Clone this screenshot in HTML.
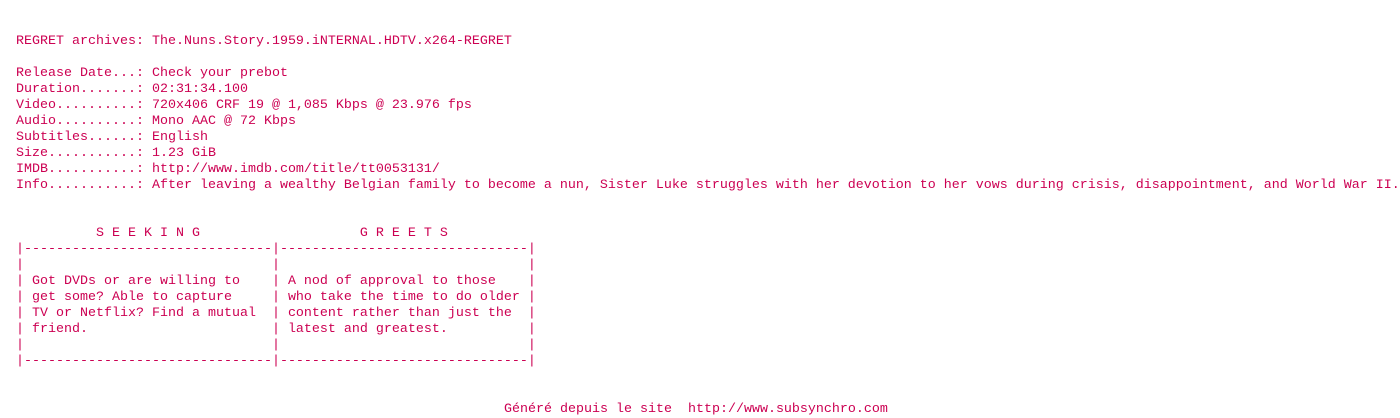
<!DOCTYPE html>
<html><head><meta charset="utf-8"><style>
html,body{margin:0;padding:0;background:#fff;width:1400px;height:416px;overflow:hidden}
pre{position:absolute;left:16px;top:34px;margin:0;font-family:"Liberation Mono",monospace;font-size:13.33px;line-height:16px;color:#cc0052;white-space:pre}
</style></head><body>
<pre>REGRET archives: The.Nuns.Story.1959.iNTERNAL.HDTV.x264-REGRET

Release Date...: Check your prebot
Duration.......: 02:31:34.100
Video..........: 720x406 CRF 19 @ 1,085 Kbps @ 23.976 fps
Audio..........: Mono AAC @ 72 Kbps
Subtitles......: English
Size...........: 1.23 GiB
IMDB...........: http://www.imdb.com/title/tt0053131/
Info...........: After leaving a wealthy Belgian family to become a nun, Sister Luke struggles with her devotion to her vows during crisis, disappointment, and World War II.


          S E E K I N G                    G R E E T S
|-------------------------------|-------------------------------|
|                               |                               |
| Got DVDs or are willing to    | A nod of approval to those    |
| get some? Able to capture     | who take the time to do older |
| TV or Netflix? Find a mutual  | content rather than just the  |
| friend.                       | latest and greatest.          |
|                               |                               |
|-------------------------------|-------------------------------|
</pre>
<pre style="left:504px;top:402px">Généré depuis le site  http://www.subsynchro.com</pre>
</body></html>
